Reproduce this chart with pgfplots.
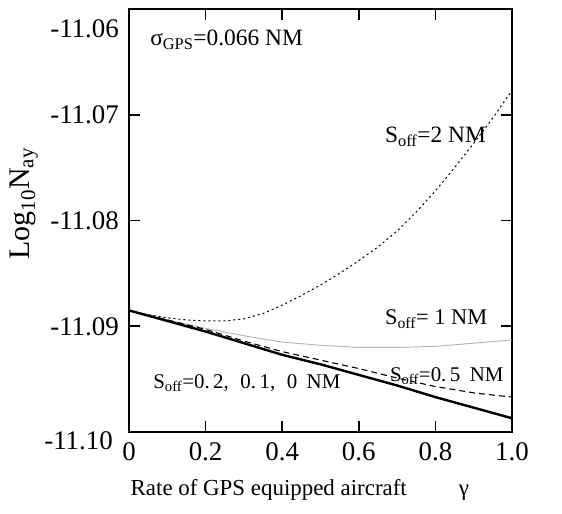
\documentclass[border=0pt]{standalone}
\usepackage{fontspec}
\setmainfont{Liberation Serif}
\usepackage{pgfplots}
\pgfplotsset{compat=1.18}
\pgfplotstableread{
x y
0 -11.0886
0.05 -11.0889
0.1 -11.0892
0.15 -11.0894
0.2 -11.0895
0.25 -11.0895
0.3 -11.0893
0.35 -11.0888
0.4 -11.0880
0.45 -11.0871
0.5 -11.0861
0.55 -11.0850
0.6 -11.0838
0.65 -11.0825
0.7 -11.0810
0.75 -11.0792
0.8 -11.0772
0.85 -11.0750
0.9 -11.0727
0.95 -11.0703
1.0 -11.0677
}\soffTwo
\pgfplotstableread{
x y
0 -11.0885
0.1 -11.0894
0.2 -11.0902
0.3 -11.0909
0.4 -11.0915
0.5 -11.0918
0.6 -11.0920
0.7 -11.0920
0.8 -11.0919
0.9 -11.0916
1.0 -11.0913
}\soffOne
\pgfplotstableread{
x y
0 -11.0885
0.1 -11.0894
0.2 -11.0903
0.3 -11.0914
0.4 -11.0924
0.5 -11.0932
0.6 -11.0940
0.7 -11.0949
0.8 -11.0957
0.9 -11.0963
1.0 -11.0967
}\soffHalf
\pgfplotstableread{
x y
0 -11.0885
0.1 -11.0895
0.2 -11.0905
0.3 -11.0916
0.4 -11.0927
0.5 -11.0936
0.6 -11.0946
0.7 -11.0956
0.8 -11.0967
0.9 -11.0977
1.0 -11.0987
}\soffSmall
\begin{document}
\begin{tikzpicture}
\begin{axis}[
  scale only axis, width=383bp, height=423bp,
  xmin=0, xmax=1, ymin=-11.10, ymax=-11.06,
  axis line style={line width=1.6bp},
  tick align=inside,
  tick style={line width=1.6bp, black},
  major tick length=11bp,
  xtick={0,0.2,0.4,0.6,0.8,1.0},
  xticklabels={0,0.2,0.4,0.6,0.8,1.0},
  ytick={-11.10,-11.09,-11.08,-11.07,-11.06},
  yticklabels={\raisebox{-17bp}[0pt][0pt]{-11.10\hspace{6bp}},-11.09,-11.08,-11.07,\raisebox{-28.5bp}[0pt][0pt]{-11.06}},
  yticklabel style={font=\fontsize{27}{27}\selectfont, inner sep=0pt, anchor=east, xshift=-10bp},
  xticklabel style={font=\fontsize{27}{27}\selectfont, inner sep=0pt, anchor=north, yshift=-10bp},
  xlabel={Rate of GPS equipped aircraft\hspace{52bp}γ},
  xlabel style={font=\fontsize{23}{23}\selectfont, at={(axis description cs:0.446,0)}, anchor=center, yshift=-58bp},
  ylabel={Log\textsubscript{10}N\textsubscript{ay}},
  ylabel style={font=\fontsize{30}{30}\selectfont, at={(axis description cs:-0.274,0.54)}, anchor=center, rotate=0},
  clip=false,
]
\addplot[black, line width=1bp, dash pattern=on 2bp off 3bp] table[x=x,y=y] {\soffTwo};
\addplot[gray!60, line width=0.9bp] table[x=x,y=y] {\soffOne};
\addplot[black, line width=1.1bp, dash pattern=on 6bp off 4bp] table[x=x,y=y] {\soffHalf};
\addplot[black, line width=2.4bp] table[x=x,y=y] {\soffSmall};
\node[anchor=west, font=\fontsize{23.5}{23.5}\selectfont, inner sep=0pt] at (axis cs:0.055,-11.0629) {σ\textsubscript{GPS}=0.066 NM};
\node[anchor=west, font=\fontsize{23.5}{23.5}\selectfont, inner sep=0pt] at (axis cs:0.668,-11.0721) {S\textsubscript{off}=2 NM};
\node[anchor=west, font=\fontsize{22.5}{22.5}\selectfont, inner sep=0pt] at (axis cs:0.668,-11.0893) {S\textsubscript{off}= 1 NM};
\node[anchor=west, font=\fontsize{21}{21}\selectfont, inner sep=0pt] at (axis cs:0.681,-11.0947) {S\textsubscript{off}=0.\,5\hspace{0.45em}NM};
\node[anchor=west, font=\fontsize{21}{21}\selectfont, inner sep=0pt] at (axis cs:0.063,-11.0954) {S\textsubscript{off}=0.\,2,\hspace{0.55em}0.\,1,\hspace{0.55em}0\hspace{0.45em}NM};
\end{axis}
\pgfresetboundingbox
\path (current axis.south west) ++(-129bp,-82bp) (current axis.north east) ++(50bp,9bp);
\end{tikzpicture}
\end{document}
